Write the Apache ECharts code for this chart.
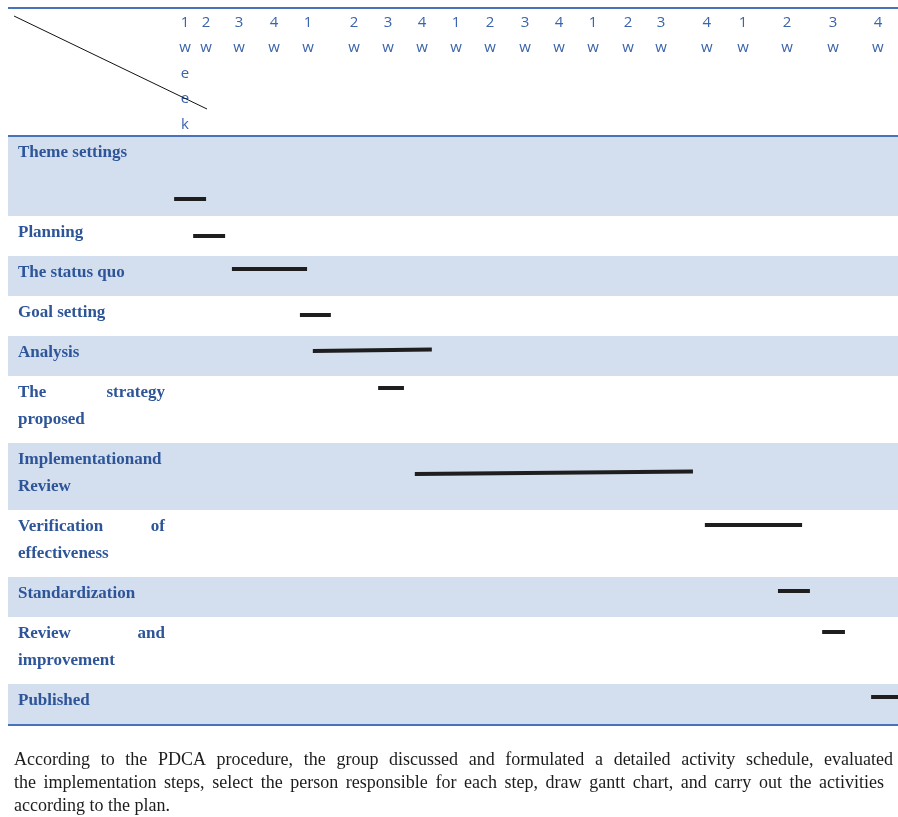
<!DOCTYPE html>
<html>
<head>
<meta charset="utf-8">
<script src="https://cdn.jsdelivr.net/npm/echarts@6/dist/echarts.min.js"></script>
<style>
  html, body { margin: 0; padding: 0; background: #fff; }
  #chart { width: 898px; height: 817px; }
</style>
</head>
<body>
<div id="chart"></div>
<script>
// ---- Activity schedule (PDCA), timeline in week units ----
const tasks = [
  'Theme settings',
  'Planning',
  'The status quo',
  'Goal setting',
  'Analysis',
  'The strategy\nproposed',
  'Implementationand\nReview',
  'Verification of\neffectiveness',
  'Standardization',
  'Review and\nimprovement',
  'Published'
];
const taskStart = [0.18, 0.74, 1.88, 3.88, 4.26, 6.18, 7.26, 15.79, 17.94, 19.24, 20.68];
const taskEnd   = [1.12, 1.68, 4.09, 4.79, 7.76, 6.94, 15.44, 18.65, 18.88, 19.91, 21.5];

// week columns of the header
const weekPos = [0.5, 1.12, 2.09, 3.12, 4.12, 5.47, 6.47, 7.47, 8.47, 9.47,
                 10.5, 11.5, 12.5, 13.53, 14.5, 15.85, 16.91, 18.21, 19.56, 20.88];
const weekLabels = ['1\nw\ne\ne\nk', '2\nw', '3\nw', '4\nw', '1\nw', '2\nw', '3\nw', '4\nw',
                    '1\nw', '2\nw', '3\nw', '4\nw', '1\nw', '2\nw', '3\nw', '4\nw',
                    '1\nw', '2\nw', '3\nw', '4\nw'];

const noteLines = [
  'According to the PDCA procedure, the group discussed and formulated a detailed activity schedule, evaluated',
  'the implementation steps, select the person responsible for each step, draw gantt chart, and carry out the activities',
  'according to the plan.'
];

// ---- layout ----
const X_MIN = -160 / 34, X_MAX = 730 / 34;
const Y_MAX = 718;
const HEADER_H = 128;
const rowHeights = [80, 40, 40, 40, 40, 67, 67, 67, 40, 67, 40];
const barDrop = [63, 20, 13, 19, 15, 12, 31, 15, 14, 15, 13];
const barTilt = [0, 0, 0, 0, -1.5, 0, -2.5, 0, 0, 0, 0];
const rowTop = [];
(function () { let acc = HEADER_H; rowHeights.forEach(h => { rowTop.push(acc); acc += h; }); })();
const ruleRows = [0, HEADER_H, Y_MAX - 1];

const RULE = '#4872b9', STRIPE = '#d3deef', LABEL = '#2d5598', HEAD = '#3a64ab', BAR = '#1e1e1e';
const LABEL_FONT = 'bold 17px "Liberation Serif"';
const NOTE_FONT = '18px "Liberation Serif"';
const HEAD_FONT = '15px "Open Sans"';

const ctx = document.createElement('canvas').getContext('2d');
function measure(t, font) { ctx.font = font; return ctx.measureText(t).width; }

// words of a line spread between x0 and x1
function justified(line, x0, x1, font) {
  const words = line.split(' ');
  const widths = words.map(w => measure(w, font));
  const total = widths.reduce((a, b) => a + b, 0);
  const gap = words.length > 1 ? (x1 - x0 - total) / (words.length - 1) : 0;
  const out = [];
  let x = x0;
  words.forEach((w, j) => { out.push({ text: w, x: x }); x += widths[j] + gap; });
  return out;
}

function renderRow(params, api) {
  const i = api.value(0);
  const cs = params.coordSys;
  const top = api.coord([X_MIN, rowTop[i]])[1];
  const bottom = api.coord([X_MIN, rowTop[i] + rowHeights[i]])[1];
  const children = [];
  if (i % 2 === 0) {
    children.push({ type: 'rect', shape: { x: cs.x, y: top, width: cs.width, height: bottom - top },
                    style: { fill: STRIPE } });
  }
  const lines = tasks[i].split('\n');
  const x0 = cs.x + 10, x1 = cs.x + 157;
  lines.forEach((ln, k) => {
    const y = top + 16.5 + k * 27;
    const parts = (k < lines.length - 1 && ln.indexOf(' ') > 0)
      ? justified(ln, x0, x1, LABEL_FONT) : [{ text: ln, x: x0 }];
    parts.forEach(p => children.push({
      type: 'text',
      style: { text: p.text, x: p.x, y: y, fill: LABEL, font: LABEL_FONT,
               align: 'left', verticalAlign: 'middle' }
    }));
  });
  return { type: 'group', children: children };
}

function renderRule(params, api) {
  const cs = params.coordSys;
  const y = api.coord([X_MIN, api.value(0)])[1];
  return { type: 'line', shape: { x1: cs.x, y1: y, x2: cs.x + cs.width, y2: y },
           style: { stroke: RULE, lineWidth: 2 } };
}

function renderWeek(params, api) {
  const p = api.coord([api.value(0), 1.5]);
  return { type: 'text',
           style: { text: weekLabels[api.value(1)], x: p[0], y: p[1], fill: HEAD,
                    font: HEAD_FONT, lineHeight: 25.6, align: 'center', verticalAlign: 'top' } };
}

function renderTask(params, api) {
  const i = api.value(2);
  const yc = rowTop[i] + barDrop[i];
  const a = api.coord([api.value(0), yc]);
  const b = api.coord([api.value(1), yc + barTilt[i]]);
  const h = 2;
  return { type: 'polygon',
           shape: { points: [[a[0], a[1] - h], [b[0], b[1] - h], [b[0], b[1] + h], [a[0], a[1] + h]] },
           style: { fill: BAR } };
}

const noteGraphics = [];
const noteY = [760, 783, 806];
const noteRight = [893, 884, null];
noteLines.forEach((ln, k) => {
  const parts = noteRight[k] ? justified(ln, 14, noteRight[k], NOTE_FONT) : [{ text: ln, x: 14 }];
  parts.forEach(p => noteGraphics.push({
    type: 'text', x: p.x, y: noteY[k],
    style: { text: p.text, font: NOTE_FONT, fill: '#1c1c1c', verticalAlign: 'middle' }
  }));
});

const chart = echarts.init(document.getElementById('chart'), null, { renderer: 'canvas' });
chart.setOption({
  animation: false,
  grid: { left: 8, right: 0, top: 8, bottom: 817 - 8 - Y_MAX, containLabel: false },
  xAxis: { type: 'value', min: X_MIN, max: X_MAX, show: false },
  yAxis: { type: 'value', min: 0, max: Y_MAX, inverse: true, show: false },
  series: [
    { type: 'custom', name: 'rows', renderItem: renderRow, data: tasks.map((t, i) => [i]),
      encode: { x: -1, y: 0 }, silent: true, z: 1 },
    { type: 'custom', name: 'tasks', renderItem: renderTask, clip: true,
      data: tasks.map((t, i) => [taskStart[i], taskEnd[i], i]),
      encode: { x: [0, 1], y: 2 }, z: 3 },
    { type: 'custom', name: 'rules', renderItem: renderRule, data: ruleRows.map(v => [v]),
      encode: { y: 0 }, silent: true, z: 4 },
    { type: 'custom', name: 'weeks', renderItem: renderWeek, data: weekPos.map((p, i) => [p, i]),
      encode: { x: 0 }, silent: true, z: 4 }
  ],
  graphic: [
    { type: 'line', shape: { x1: 14, y1: 16, x2: 207, y2: 109 }, style: { stroke: '#111', lineWidth: 1 }, z: 10 }
  ].concat(noteGraphics)
});
</script>
</body>
</html>
